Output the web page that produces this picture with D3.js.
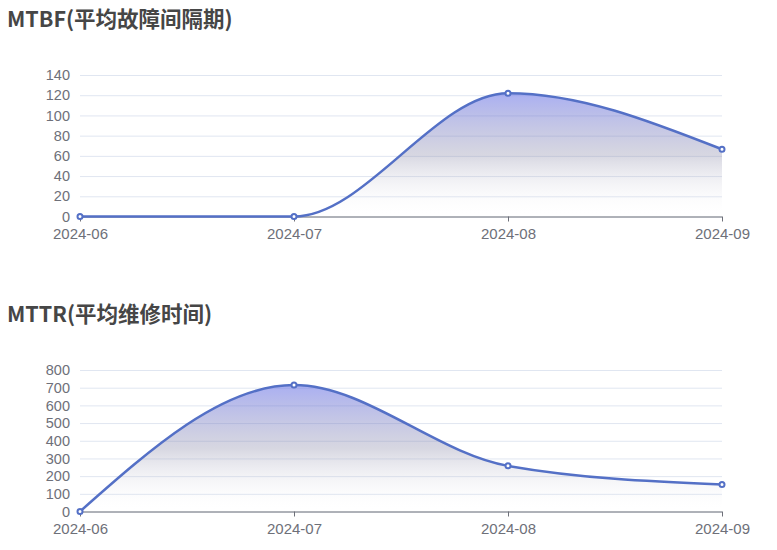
<!DOCTYPE html>
<html>
<head>
<meta charset="utf-8">
<script src="https://cdn.jsdelivr.net/npm/d3@7"></script>
<style>
  body { margin: 0; background: #fff; }
  text { font-family: "Noto Sans CJK SC", "Noto Sans", sans-serif; }
</style>
</head>
<body>
<div id="chart"></div>
<script>
// Data
var months = ["2024-06", "2024-07", "2024-08", "2024-09"];
var mtbfValues = [0, 0, 122, 66.5];
var mttrValues = [0, 715, 258, 152];
var mtbfTicks = [0, 20, 40, 60, 80, 100, 120, 140];
var mttrTicks = [0, 100, 200, 300, 400, 500, 600, 700, 800];

var svgWidth = 777;
var svgHeight = 550;

var svg = d3.select("#chart")
    .append("svg")
    .attr("width", svgWidth)
    .attr("height", svgHeight);

// shared gradient for the area fill
var defs = svg.append("defs");
var grad = defs.append("linearGradient")
    .attr("id", "areaFill")
    .attr("x1", 0).attr("y1", 0)
    .attr("x2", 0).attr("y2", 1);
grad.append("stop").attr("offset", "0%").attr("stop-color", "rgb(100,110,230)").attr("stop-opacity", 0.55);
grad.append("stop").attr("offset", "50%").attr("stop-color", "rgb(140,140,170)").attr("stop-opacity", 0.35);
grad.append("stop").attr("offset", "100%").attr("stop-color", "rgb(255,255,255)").attr("stop-opacity", 0);

function drawChart(opts) {
    var x = d3.scalePoint()
        .domain(months)
        .range([80, 722]);

    var y = d3.scaleLinear()
        .domain([0, opts.ticks[opts.ticks.length - 1]])
        .range([opts.bottom, opts.top]);

    // title
    svg.append("text")
        .attr("x", 7)
        .attr("y", opts.titleY)
        .style("font-size", "21.5px")
        .style("font-weight", "bold")
        .attr("fill", "#464646")
        .text(opts.title);

    // grid lines + y labels
    var yAxis = d3.axisLeft(y)
        .tickValues(opts.ticks)
        .tickSize(-(722 - 80))
        .tickPadding(10);

    var gy = svg.append("g")
        .attr("transform", "translate(80,0)")
        .call(yAxis);
    gy.select(".domain").remove();
    gy.selectAll(".tick line").attr("stroke", "#e0e6f1");
    gy.selectAll(".tick text")
        .attr("fill", "#6e7079")
        .style("font-size", "14.5px")
        .style("font-family", "'Liberation Sans', sans-serif");

    // area + line
    var data = months.map(function(m, i) { return { m: m, v: opts.values[i] }; });

    var area = d3.area()
        .x(function(d) { return x(d.m); })
        .y0(y(0))
        .y1(function(d) { return y(d.v); })
        .curve(d3.curveMonotoneX);

    var line = d3.line()
        .x(function(d) { return x(d.m); })
        .y(function(d) { return y(d.v); })
        .curve(d3.curveMonotoneX);

    svg.append("path")
        .datum(data)
        .attr("d", area)
        .attr("fill", "url(#areaFill)");

    // x axis
    var xAxis = d3.axisBottom(x)
        .tickSize(5)
        .tickPadding(7);
    var gx = svg.append("g")
        .attr("transform", "translate(0," + y(0) + ")")
        .call(xAxis);
    gx.select(".domain")
        .attr("stroke", "#6e7079")
        .attr("d", "M80,0.5H722");
    gx.selectAll(".tick line").attr("stroke", "#6e7079");
    gx.selectAll(".tick text")
        .attr("fill", "#6e7079")
        .style("font-size", "15px")
        .style("font-family", "'Liberation Sans', sans-serif");

    svg.append("path")
        .datum(data)
        .attr("d", line)
        .attr("fill", "none")
        .attr("stroke", "#5470c6")
        .attr("stroke-width", 2.5);

    svg.selectAll(null)
        .data(data)
        .enter()
        .append("circle")
        .attr("cx", function(d) { return x(d.m); })
        .attr("cy", function(d) { return y(d.v); })
        .attr("r", 2.5)
        .attr("fill", "#fff")
        .attr("stroke", "#5470c6")
        .attr("stroke-width", 2);
}

drawChart({
    title: "MTBF(平均故障间隔期)",
    titleY: 27,
    values: mtbfValues,
    ticks: mtbfTicks,
    top: 75,
    bottom: 216.5
});

drawChart({
    title: "MTTR(平均维修时间)",
    titleY: 322,
    values: mttrValues,
    ticks: mttrTicks,
    top: 370,
    bottom: 511.5
});
</script>
</body>
</html>
